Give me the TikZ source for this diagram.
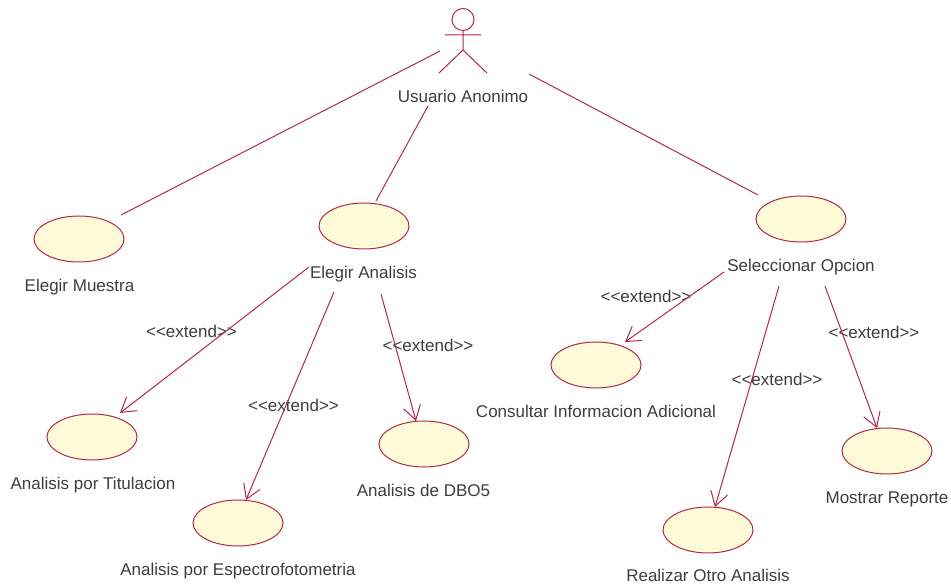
\documentclass[tikz,border=0pt]{standalone}
\usepackage{fontspec}
\setmainfont{Liberation Sans}
\usetikzlibrary{arrows.meta,shapes.geometric}
\definecolor{umlline}{RGB}{178,40,74}
\definecolor{umlfill}{RGB}{255,250,215}
\definecolor{umltext}{RGB}{60,60,66}
\tikzset{
  x=0.75pt,y=-0.75pt,
  usecase/.style={ellipse,draw=umlline,fill=umlfill,line width=0.75pt,minimum width=67.5pt,minimum height=34.5pt,inner sep=0pt},
  lbl/.style={text=umltext,font=\fontsize{12.75pt}{14pt}\selectfont,inner sep=0pt,anchor=center,text height=9pt,text depth=2.6pt,yshift=-1.5pt},
  assoc/.style={draw=umlline,line width=0.75pt},
  ext/.style={draw=umlline,line width=0.75pt,-{Straight Barb[length=10.5pt,width=13pt,line width=0.75pt]}},
  actorline/.style={draw=umlline,line width=0.75pt}
}
\begin{document}
\begin{tikzpicture}
\useasboundingbox (0,0) rectangle (951,584);
% actor
\node[circle,draw=umlline,line width=0.75pt,minimum size=16.5pt,inner sep=0pt] (head) at (463,19.5) {};
\coordinate (hip) at (463,50);
\coordinate (armL) at (445,35);
\coordinate (armR) at (481,35);
\coordinate (legL) at (439,73);
\coordinate (legR) at (487,73);
\draw[actorline] (head.south) -- (hip) -- (legL) (hip) -- (legR) (armL) -- (armR);
\node[lbl] (actor) at (463,96) {Usuario Anonimo};
% use cases
\node[usecase] (muestra) at (79,239) {};
\node[usecase] (analisis) at (364,226) {};
\node[usecase] (opcion) at (801,219) {};
\node[usecase] (titulacion) at (92,437) {};
\node[usecase] (espectro) at (238,523) {};
\node[usecase] (dbo) at (424,444) {};
\node[usecase] (consultar) at (596,365) {};
\node[usecase] (otro) at (708,530) {};
\node[usecase] (reporte) at (887,451) {};
% labels
\node[lbl] (lmuestra) at (79.5,285) {Elegir Muestra};
\node[lbl] (lanalisis) at (363.5,272) {Elegir Analisis};
\node[lbl] (lopcion) at (801,265) {Seleccionar Opcion};
\node[lbl] (ltitulacion) at (93,483) {Analisis por Titulacion};
\node[lbl] (lespectro) at (238,569) {Analisis por Espectrofotometria};
\node[lbl] (ldbo) at (423.5,490) {Analisis de DBO5};
\node[lbl] (lconsultar) at (596,411) {Consultar Informacion Adicional};
\node[lbl] (lotro) at (708,575) {Realizar Otro Analisis};
\node[lbl] (lreporte) at (887,497) {Mostrar Reporte};
% extend labels
\node[lbl] (e1) at (191.5,331) {<{}<extend>{}>};
\node[lbl] (e2) at (293.5,405) {<{}<extend>{}>};
\node[lbl] (e3) at (428,345) {<{}<extend>{}>};
\node[lbl] (e4) at (646,296) {<{}<extend>{}>};
\node[lbl] (e5) at (777,379) {<{}<extend>{}>};
\node[lbl] (e6) at (874,332) {<{}<extend>{}>};
% free ends
\coordinate (a1) at (440,51);
\coordinate (a1e) at (121,215);
\coordinate (a2) at (428,106);
\coordinate (a2e) at (376,201);
\coordinate (a3) at (529,74);
\coordinate (a3e) at (758,195);
\coordinate (s1) at (309,267);
\coordinate (t1) at (120,413);
\coordinate (s2) at (334,292);
\coordinate (t2) at (246,500);
\coordinate (s3) at (381,294);
\coordinate (t3) at (416,421);
\coordinate (s4) at (724,272);
\coordinate (t4) at (625,342);
\coordinate (s5) at (779,286);
\coordinate (t5) at (715,507);
\coordinate (s6) at (825,286);
\coordinate (t6) at (877,428);
% connectors
\draw[assoc] (a1) -- (a1e);
\draw[assoc] (a2) -- (a2e);
\draw[assoc] (a3) -- (a3e);
\draw[ext] (s1) -- (t1);
\draw[ext] (s2) -- (t2);
\draw[ext] (s3) -- (t3);
\draw[ext] (s4) -- (t4);
\draw[ext] (s5) -- (t5);
\draw[ext] (s6) -- (t6);
\end{tikzpicture}
\end{document}
